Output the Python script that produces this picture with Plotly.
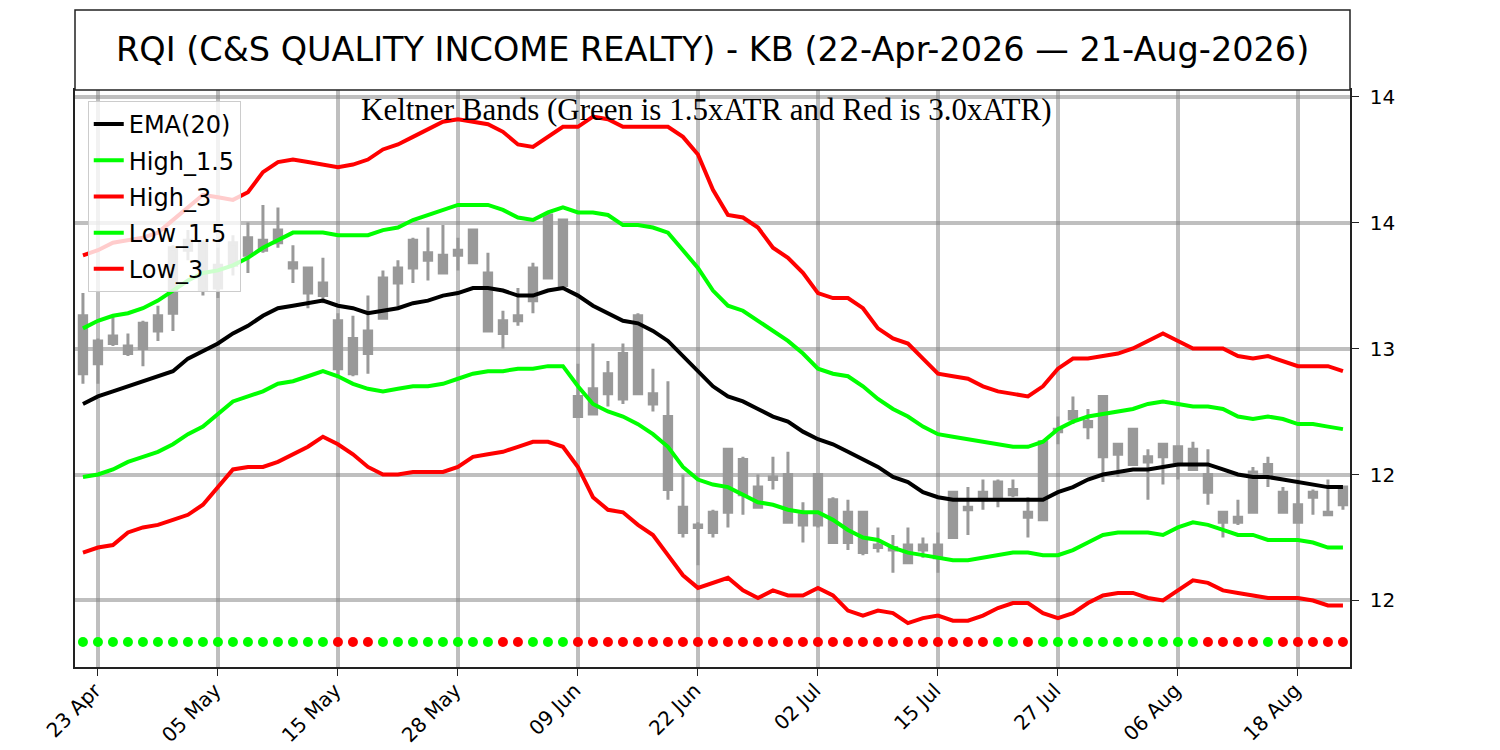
#!/usr/bin/env python3
# -*- coding: utf-8 -*-

import plotly.graph_objects as go

# tick labels for the trading-day index axis
tick_index = [1, 9, 17, 25, 33, 41, 49, 57, 65, 73, 81]
tick_labels = ["23 Apr", "05 May", "15 May", "28 May", "09 Jun", "22 Jun",
               "02 Jul", "15 Jul", "27 Jul", "06 Aug", "18 Aug"]

# OHLC (22-Apr-2026 .. 21-Aug-2026, 85 sessions)
opens = [13.13, 12.94, 13.05, 12.98, 13.00, 13.07, 13.14, 13.39, 13.42, 13.24,
         13.33, 13.37, 13.39, 13.47, 13.34, 13.32, 13.26, 13.11, 12.90, 12.98,
         13.12, 13.26, 13.32, 13.38, 13.30, 13.37, 13.34, 13.30, 13.06, 13.11,
         13.19, 13.28, 13.51, 12.81, 12.74, 12.82, 12.80, 12.82, 12.82, 12.73,
         12.37, 12.30, 12.27, 12.35, 12.56, 12.45, 12.48, 12.50, 12.34, 12.30,
         12.40, 12.23, 12.35, 12.21, 12.21, 12.15, 12.22, 12.17, 12.25, 12.37,
         12.40, 12.41, 12.44, 12.35, 12.32, 12.67, 12.72, 12.71, 12.57, 12.62,
         12.54, 12.57, 12.57, 12.61, 12.52, 12.50, 12.35, 12.31, 12.35, 12.50,
         12.43, 12.31, 12.41, 12.35, 12.38]
highs = [13.22, 13.04, 13.13, 13.06, 13.11, 13.17, 13.41, 13.47, 13.43, 13.40,
         13.45, 13.50, 13.57, 13.56, 13.41, 13.32, 13.36, 13.14, 13.13, 13.21,
         13.31, 13.35, 13.44, 13.48, 13.49, 13.44, 13.47, 13.38, 13.15, 13.24,
         13.34, 13.54, 13.51, 12.94, 13.02, 12.95, 13.02, 13.14, 12.92, 12.87,
         12.50, 12.31, 12.36, 12.60, 12.57, 12.50, 12.57, 12.59, 12.39, 12.50,
         12.41, 12.40, 12.35, 12.29, 12.26, 12.29, 12.25, 12.27, 12.43, 12.45,
         12.48, 12.48, 12.48, 12.41, 12.63, 12.73, 12.81, 12.76, 12.81, 12.62,
         12.68, 12.60, 12.62, 12.61, 12.63, 12.60, 12.35, 12.40, 12.53, 12.57,
         12.45, 12.48, 12.44, 12.48, 12.45]
lows = [12.86, 12.86, 13.01, 12.97, 12.93, 13.03, 13.07, 13.35, 13.21, 13.20,
        13.29, 13.30, 13.38, 13.40, 13.26, 13.16, 13.18, 12.89, 12.89, 12.90,
        13.12, 13.16, 13.26, 13.27, 13.30, 13.31, 13.34, 13.07, 13.00, 13.09,
        13.14, 13.28, 13.25, 12.73, 12.74, 12.77, 12.78, 12.82, 12.75, 12.40,
        12.25, 12.14, 12.25, 12.29, 12.34, 12.37, 12.44, 12.31, 12.23, 12.29,
        12.23, 12.20, 12.18, 12.19, 12.11, 12.15, 12.17, 12.11, 12.25, 12.26,
        12.36, 12.37, 12.41, 12.25, 12.32, 12.62, 12.70, 12.64, 12.47, 12.49,
        12.54, 12.40, 12.46, 12.48, 12.52, 12.38, 12.25, 12.30, 12.35, 12.45,
        12.35, 12.31, 12.34, 12.34, 12.36]
closes = [12.90, 13.03, 13.02, 13.01, 13.10, 13.13, 13.40, 13.43, 13.23, 13.33,
          13.42, 13.44, 13.43, 13.42, 13.32, 13.22, 13.21, 12.92, 13.04, 13.07,
          13.28, 13.32, 13.43, 13.35, 13.37, 13.39, 13.47, 13.07, 13.11, 13.13,
          13.32, 13.53, 13.25, 12.73, 12.84, 12.90, 12.98, 13.13, 12.78, 12.44,
          12.27, 12.29, 12.35, 12.60, 12.42, 12.37, 12.49, 12.31, 12.30, 12.50,
          12.23, 12.35, 12.19, 12.22, 12.20, 12.22, 12.20, 12.22, 12.43, 12.36,
          12.43, 12.47, 12.42, 12.33, 12.63, 12.68, 12.75, 12.69, 12.81, 12.58,
          12.68, 12.55, 12.62, 12.55, 12.60, 12.43, 12.31, 12.33, 12.51, 12.54,
          12.35, 12.38, 12.43, 12.34, 12.45]

ema20 = [12.78, 12.81, 12.83, 12.85, 12.87, 12.89, 12.91, 12.96, 12.99, 13.02,
         13.06, 13.09, 13.13, 13.16, 13.17, 13.18, 13.19, 13.17, 13.16, 13.14,
         13.15, 13.16, 13.18, 13.19, 13.21, 13.22, 13.24, 13.24, 13.23, 13.21,
         13.21, 13.23, 13.24, 13.21, 13.17, 13.14, 13.11, 13.10, 13.07, 13.03,
         12.97, 12.91, 12.85, 12.81, 12.79, 12.76, 12.73, 12.71, 12.67, 12.64,
         12.62, 12.59, 12.56, 12.53, 12.49, 12.47, 12.43, 12.41, 12.40, 12.40,
         12.40, 12.40, 12.40, 12.40, 12.40, 12.43, 12.45, 12.48, 12.50, 12.51,
         12.52, 12.52, 12.53, 12.54, 12.54, 12.54, 12.52, 12.50, 12.49, 12.49,
         12.48, 12.47, 12.46, 12.45, 12.45]
high_15 = [13.08, 13.11, 13.13, 13.14, 13.16, 13.19, 13.23, 13.27, 13.30, 13.31,
           13.33, 13.36, 13.40, 13.43, 13.46, 13.46, 13.46, 13.45, 13.45, 13.45,
           13.47, 13.48, 13.51, 13.53, 13.55, 13.57, 13.57, 13.57, 13.55, 13.52,
           13.51, 13.54, 13.56, 13.54, 13.54, 13.53, 13.49, 13.49, 13.48, 13.46,
           13.39, 13.32, 13.23, 13.17, 13.15, 13.11, 13.07, 13.03, 12.98, 12.92,
           12.90, 12.89, 12.85, 12.80, 12.76, 12.73, 12.69, 12.66, 12.65, 12.64,
           12.63, 12.62, 12.61, 12.61, 12.63, 12.68, 12.71, 12.73, 12.74, 12.75,
           12.76, 12.78, 12.79, 12.78, 12.77, 12.77, 12.76, 12.73, 12.72, 12.73,
           12.72, 12.70, 12.70, 12.69, 12.68]
high_3 = [13.37, 13.39, 13.42, 13.43, 13.44, 13.46, 13.51, 13.56, 13.61, 13.60,
          13.59, 13.62, 13.70, 13.74, 13.75, 13.74, 13.73, 13.72, 13.73, 13.75,
          13.79, 13.81, 13.84, 13.87, 13.90, 13.91, 13.90, 13.89, 13.86, 13.81,
          13.80, 13.84, 13.88, 13.88, 13.92, 13.91, 13.88, 13.88, 13.88, 13.88,
          13.84, 13.77, 13.63, 13.53, 13.52, 13.48, 13.40, 13.36, 13.30, 13.22,
          13.20, 13.20, 13.16, 13.08, 13.04, 13.02, 12.96, 12.90, 12.89, 12.88,
          12.85, 12.83, 12.82, 12.81, 12.85, 12.92, 12.96, 12.96, 12.97, 12.98,
          13.00, 13.03, 13.06, 13.03, 13.00, 13.00, 13.00, 12.97, 12.96, 12.97,
          12.95, 12.93, 12.93, 12.93, 12.91]
low_15 = [12.49, 12.50, 12.52, 12.55, 12.57, 12.59, 12.62, 12.66, 12.69, 12.74,
          12.79, 12.81, 12.83, 12.86, 12.87, 12.89, 12.91, 12.89, 12.86, 12.84,
          12.83, 12.84, 12.85, 12.85, 12.86, 12.88, 12.90, 12.91, 12.91, 12.92,
          12.92, 12.93, 12.93, 12.85, 12.78, 12.75, 12.73, 12.70, 12.66, 12.61,
          12.53, 12.48, 12.46, 12.45, 12.42, 12.39, 12.38, 12.36, 12.35, 12.35,
          12.32, 12.28, 12.25, 12.24, 12.21, 12.19, 12.18, 12.17, 12.16, 12.16,
          12.17, 12.18, 12.19, 12.19, 12.18, 12.18, 12.20, 12.23, 12.26, 12.27,
          12.27, 12.27, 12.26, 12.29, 12.31, 12.30, 12.28, 12.26, 12.26, 12.24,
          12.24, 12.24, 12.23, 12.21, 12.21]
low_3 = [12.19, 12.21, 12.22, 12.27, 12.29, 12.30, 12.32, 12.34, 12.38, 12.45,
         12.52, 12.53, 12.53, 12.55, 12.58, 12.61, 12.65, 12.62, 12.58, 12.53,
         12.50, 12.50, 12.51, 12.51, 12.51, 12.53, 12.57, 12.58, 12.59, 12.61,
         12.63, 12.63, 12.61, 12.53, 12.41, 12.36, 12.35, 12.30, 12.26, 12.18,
         12.10, 12.05, 12.07, 12.09, 12.04, 12.01, 12.04, 12.02, 12.02, 12.05,
         12.02, 11.96, 11.94, 11.96, 11.95, 11.91, 11.93, 11.94, 11.92, 11.92,
         11.94, 11.97, 11.99, 11.99, 11.95, 11.93, 11.95, 11.99, 12.02, 12.03,
         12.03, 12.01, 12.00, 12.04, 12.08, 12.07, 12.04, 12.03, 12.02, 12.01,
         12.01, 12.01, 12.00, 11.98, 11.98]

# trend signal dots under the candles (G = green, R = red)
signal = list("GGGGGGGGGGGGGGGGG" "RRR" "GGGGGGGG" "RR" "GGG"
              "RRRRRRRRRRRRRRRRRRRRRRRRRRRR" "GG" "R" "GGGGGGGGGGG"
              "RRRR" "G" "RRRRR")
signal_level = 11.835

ytick_vals = [12.0, 12.5, 13.0, 13.5, 14.0]
ytick_text = ["12", "12", "13", "14", "14"]

x = list(range(len(closes)))
candle_grey = "#999999"
grid = "rgba(128,128,128,0.5)"
spine = "#222222"

fig = go.Figure()
fig.add_trace(go.Candlestick(
    x=x, open=opens, high=highs, low=lows, close=closes,
    increasing=dict(line=dict(color=candle_grey, width=3), fillcolor=candle_grey),
    decreasing=dict(line=dict(color=candle_grey, width=3), fillcolor=candle_grey),
    whiskerwidth=0, showlegend=False, hoverinfo="skip"
))

bands = [("EMA(20)", ema20, "black"),
         ("High_1.5", high_15, "#00ff00"),
         ("High_3", high_3, "#ff0000"),
         ("Low_1.5", low_15, "#00ff00"),
         ("Low_3", low_3, "#ff0000")]
for name, vals, colour in bands:
    fig.add_trace(go.Scatter(x=x, y=vals, mode="lines", name=name,
                             legendgroup=name,
                             line=dict(color=colour, width=4)))

fig.add_trace(go.Scatter(
    x=x, y=[signal_level] * len(x), mode="markers", showlegend=False,
    marker=dict(size=10, color=["#00ff00" if s == "G" else "#ff0000"
                                for s in signal])
))

# title box above the axes
fig.add_shape(type="rect", xref="paper", yref="paper",
              x0=0, x1=1, y0=1, y1=1 + 80 / 577,
              line=dict(color=spine, width=1.5), fillcolor="white")
fig.add_annotation(text="RQI (C&S QUALITY INCOME REALTY) - KB "
                        "(22-Apr-2026 — 21-Aug-2026)",
                   xref="paper", yref="paper", x=0.5, y=1 + 40 / 577,
                   showarrow=False, xanchor="center", yanchor="middle",
                   font=dict(family="DejaVu Sans", size=33.5, color="black"))
fig.add_annotation(text="Keltner Bands (Green is 1.5xATR and Red is 3.0xATR)",
                   xref="paper", yref="paper", x=0.495, y=1.0,
                   showarrow=False, xanchor="center", yanchor="top",
                   font=dict(family="Liberation Serif", size=31, color="black"))

# page body adds an 8px offset, so the figure is 8px smaller on each axis
fig.update_layout(
    width=1492, height=742,
    margin=dict(l=67, r=150, t=82, b=83, autoexpand=False),
    paper_bgcolor="white", plot_bgcolor="white",
    font=dict(family="DejaVu Sans", color="black"),
    legend=dict(x=0.01, y=0.981, xanchor="left", yanchor="top",
                bgcolor="rgba(255,255,255,0.8)", bordercolor="#cccccc",
                borderwidth=1, font=dict(size=24), tracegroupgap=2),
    xaxis=dict(range=[-0.53, 84.47], tickvals=tick_index, ticktext=tick_labels,
               tickangle=-45, ticks="outside", ticklen=7, tickwidth=1.3,
               tickcolor=spine, tickfont=dict(size=20), automargin=False,
               ticklabelstandoff=-5, ticklabelshift=-3,
               showgrid=True, gridcolor=grid, gridwidth=4,
               showline=True, linecolor=spine, linewidth=1.5,
               mirror=True, zeroline=False, rangeslider=dict(visible=False)),
    yaxis=dict(range=[11.736, 14.026], side="right", tickvals=ytick_vals,
               ticktext=ytick_text, ticks="outside", ticklen=7, tickwidth=1.3,
               tickcolor=spine, tickfont=dict(size=20), automargin=False,
               ticklabelstandoff=7,
               showgrid=True, gridcolor=grid, gridwidth=4,
               showline=True, linecolor=spine, linewidth=1.5,
               mirror=True, zeroline=False),
)

fig.write_html("out.html")
